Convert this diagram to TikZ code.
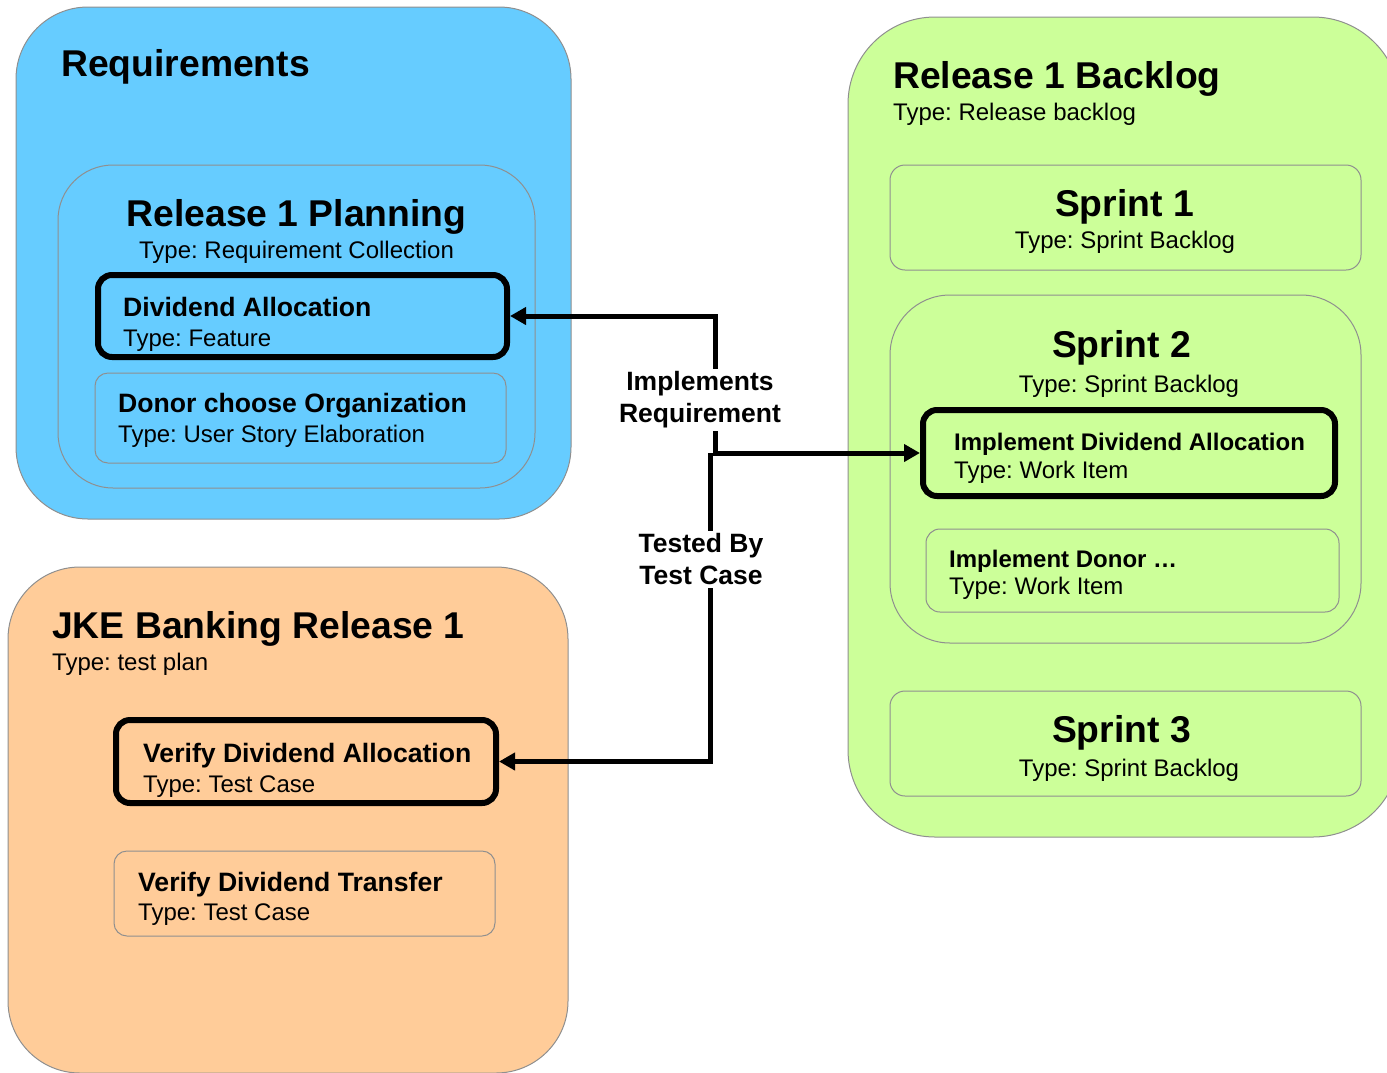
\documentclass[tikz,border=0pt]{standalone}
\usepackage{fontspec}
\setmainfont{Liberation Sans}
\usetikzlibrary{arrows.meta}
\frenchspacing

\definecolor{reqblue}{HTML}{66CCFF}
\definecolor{testorange}{HTML}{FFCC99}
\definecolor{backloggreen}{HTML}{CCFF99}
\definecolor{edgegray}{HTML}{8F8F8F}

\tikzset{
  panel/.style={draw=edgegray, line width=1pt, rounded corners=#1, inner sep=0pt, outer sep=0pt},
  keybox/.style={draw=black, line width=6pt, rounded corners=14pt, inner sep=0pt},
  bigtitle/.style={font=\fontsize{37.3}{40}\selectfont\bfseries, inner sep=0pt},
  itemtitle/.style={font=\fontsize{26.6}{30}\selectfont\bfseries, inner sep=0pt},
  worktitle/.style={font=\fontsize{24}{28}\selectfont\bfseries, inner sep=0pt},
  typetext/.style={font=\fontsize{24}{28}\selectfont, inner sep=0pt},
  linklabel/.style={font=\fontsize{26.5}{32}\selectfont\bfseries, align=center,
    fill=white, inner xsep=2pt, inner ysep=3pt},
  tip/.style={line width=5pt, line join=miter},
}

\begin{document}
\begin{tikzpicture}[x=1pt, y=-1pt]
\useasboundingbox (0,0) rectangle (1387,1072);
\clip (0,0) rectangle (1387,1072);

% ---------- Requirements ----------
\node[panel=72pt, fill=reqblue, minimum width=555pt, minimum height=512pt] (req) at (293.5,263) {};
\node[panel=55pt, minimum width=477pt, minimum height=323pt] (plan) at (296.5,326.5) {};
\node[keybox, minimum width=409pt, minimum height=82pt] (divalloc) at (302.5,316) {};
\node[panel=13pt, minimum width=411pt, minimum height=90pt] (donor) at (300.5,418) {};

% ---------- Release 1 Backlog ----------
\node[panel=87pt, fill=backloggreen, minimum width=552pt, minimum height=820pt] (backlog) at (1124,427) {};
\node[panel=15pt, minimum width=471pt, minimum height=105pt] (sprintA) at (1125.5,217.5) {};
\node[panel=60pt, minimum width=471pt, minimum height=348pt] (sprintB) at (1125.5,469) {};
\node[keybox, minimum width=412pt, minimum height=86pt] (impl) at (1129,453) {};
\node[panel=14pt, minimum width=413pt, minimum height=83pt] (impldonor) at (1132.5,570.5) {};
\node[panel=15pt, minimum width=471pt, minimum height=105pt] (sprintC) at (1125.5,743.5) {};

% ---------- Test plan ----------
\node[panel=72pt, fill=testorange, minimum width=560pt, minimum height=506pt] (plantest) at (288,820) {};
\node[keybox, minimum width=380pt, minimum height=83pt] (verify) at (306,761.5) {};
\node[panel=13pt, minimum width=381pt, minimum height=85pt] (transfer) at (304.5,893.5) {};

% ---------- Links ----------
\coordinate (colA) at (715,0);
\coordinate (split) at (710,453);
\draw[tip, {Triangle[length=16pt,width=17pt]}-{Triangle[length=16pt,width=17pt]}]
  (divalloc.east) -| (colA |- impl.west) -- (impl.west);
\draw[tip, -{Triangle[length=16pt,width=17pt]}]
  (split) |- (verify.east);
\node[linklabel] (implab) at (700,400) {Implements\\Requirement};
\node[linklabel] (testlab) at (701,559.5) {Tested By\\Test Case};

% ---------- Texts ----------
\node[bigtitle, anchor=base west] (reqT) at (61,76) {Requirements};
\node[bigtitle, anchor=base] (planT) at (296.5,226) {Release 1 Planning};
\node[typetext, anchor=base] (planS) at (296.5,258.6) {Type: Requirement Collection};
\node[itemtitle, anchor=base west] (divT) at (123,316) {Dividend Allocation};
\node[typetext, anchor=base west] (divS) at (123,346) {Type: Feature};
\node[itemtitle, anchor=base west] (donT) at (118,412) {Donor choose Organization};
\node[typetext, anchor=base west] (donS) at (118,442.6) {Type: User Story Elaboration};

\node[bigtitle, anchor=base west] (blT) at (893,88) {Release 1 Backlog};
\node[typetext, anchor=base west] (blS) at (893,120.6) {Type: Release backlog};
\node[bigtitle, anchor=base] (s1T) at (1124.5,216) {Sprint 1};
\node[typetext, anchor=base] (s1S) at (1125,248.6) {Type: Sprint Backlog};
\node[bigtitle, anchor=base] (s2T) at (1121.5,357) {Sprint 2};
\node[typetext, anchor=base] (s2S) at (1129,392.6) {Type: Sprint Backlog};
\node[worktitle, anchor=base west] (implT) at (954,450) {Implement Dividend Allocation};
\node[typetext, anchor=base west] (implS) at (954,478.6) {Type: Work Item};
\node[worktitle, anchor=base west] (idT) at (949,567) {Implement Donor …};
\node[typetext, anchor=base west] (idS) at (949,594.6) {Type: Work Item};
\node[bigtitle, anchor=base] (s3T) at (1121.5,742) {Sprint 3};
\node[typetext, anchor=base] (s3S) at (1129,776.6) {Type: Sprint Backlog};

\node[bigtitle, anchor=base west] (tpT) at (52,638) {JKE Banking Release 1};
\node[typetext, anchor=base west] (tpS) at (52,670.6) {Type: test plan};
\node[itemtitle, anchor=base west] (vaT) at (143,762) {Verify Dividend Allocation};
\node[typetext, anchor=base west] (vaS) at (143,792.6) {Type: Test Case};
\node[itemtitle, anchor=base west] (vtT) at (138,891) {Verify Dividend Transfer};
\node[typetext, anchor=base west] (vtS) at (138,920.6) {Type: Test Case};
\end{tikzpicture}
\end{document}
